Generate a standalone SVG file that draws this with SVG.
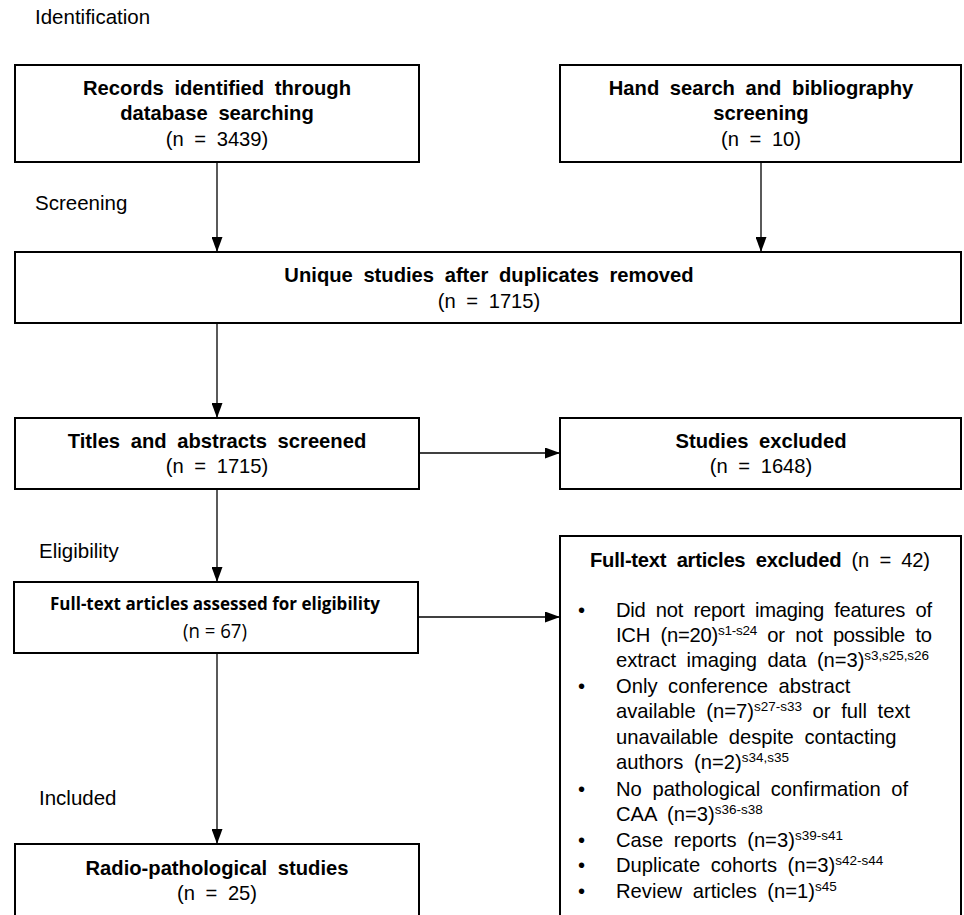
<svg xmlns="http://www.w3.org/2000/svg" width="964" height="915" viewBox="0 0 964 915">
<style>
.box{fill:#fff;stroke:#000;stroke-width:2}
.ln{fill:none;stroke:#000;stroke-width:1.3}
.lbl{font-family:"Liberation Sans",Arial,sans-serif;font-size:20.5px;fill:#000}
.t{font-family:"Liberation Sans",Arial,sans-serif;font-size:20.2px;fill:#000;word-spacing:5px}
.b{font-weight:bold}
.c{text-anchor:middle}
.cal{font-family:"Open Sans","Noto Sans",sans-serif;font-size:18px;fill:#000}
.sup{font-size:13.5px}
</style>
<defs>
<marker id="ah" markerWidth="15" markerHeight="11" refX="15" refY="5.5" orient="auto" markerUnits="userSpaceOnUse">
<path d="M0,0 L15,5.5 L0,11 z" fill="#000"/>
</marker>
</defs>
<rect width="964" height="915" fill="#fff"/>
<g id="labels">
<text class="lbl" x="35" y="24">Identification</text>
<text class="lbl" x="35" y="210">Screening</text>
<text class="lbl" x="39" y="558">Eligibility</text>
<text class="lbl" x="39" y="805">Included</text>
</g>
<g id="connectors">
<line class="ln" x1="217" y1="162" x2="217" y2="252" marker-end="url(#ah)"/>
<line class="ln" x1="761" y1="162" x2="761" y2="252" marker-end="url(#ah)"/>
<line class="ln" x1="217" y1="323" x2="217" y2="418" marker-end="url(#ah)"/>
<line class="ln" x1="419" y1="453" x2="560" y2="453" marker-end="url(#ah)"/>
<line class="ln" x1="217" y1="489" x2="217" y2="582" marker-end="url(#ah)"/>
<line class="ln" x1="418" y1="617" x2="560" y2="617" marker-end="url(#ah)"/>
<line class="ln" x1="217" y1="653" x2="217" y2="844" marker-end="url(#ah)"/>
</g>
<g id="records">
<rect class="box" x="15" y="65" width="404" height="97"/>
<text class="t b c" x="217" y="95">Records identified through</text>
<text class="t b c" x="217" y="120">database searching</text>
<text class="t c" x="217" y="145.5">(n = 3439)</text>
</g>
<g id="handsearch">
<rect class="box" x="560" y="65" width="401" height="97"/>
<text class="t b c" x="761" y="95">Hand search and bibliography</text>
<text class="t b c" x="761" y="120">screening</text>
<text class="t c" x="761" y="145.5">(n = 10)</text>
</g>
<g id="unique">
<rect class="box" x="15" y="252" width="946" height="71"/>
<text class="t b c" x="489" y="282">Unique studies after duplicates removed</text>
<text class="t c" x="489" y="307.5">(n = 1715)</text>
</g>
<g id="titles">
<rect class="box" x="15" y="418" width="404" height="71"/>
<text class="t b c" x="217" y="447.5">Titles and abstracts screened</text>
<text class="t c" x="217" y="473">(n = 1715)</text>
</g>
<g id="studies-excluded">
<rect class="box" x="560" y="418" width="401" height="71"/>
<text class="t b c" x="761" y="447.5">Studies excluded</text>
<text class="t c" x="761" y="473">(n = 1648)</text>
</g>
<g id="fulltext-assessed">
<rect class="box" x="14" y="582" width="404" height="71"/>
<text class="cal b c" x="215" y="610" textLength="330" lengthAdjust="spacingAndGlyphs">Full-text articles assessed for eligibility</text>
<text class="cal c" x="215" y="638" style="font-size:20px" textLength="64" lengthAdjust="spacingAndGlyphs">(n = 67)</text>
</g>
<g id="fulltext-excluded">
<rect class="box" x="560" y="536" width="401" height="392"/>
<text class="t" x="590" y="567" textLength="340" lengthAdjust="spacing"><tspan class="b">Full-text articles excluded</tspan> (n = 42)</text>
<g class="t">
<text x="578" y="617">•</text>
<text x="578" y="693">•</text>
<text x="578" y="796">•</text>
<text x="578" y="847">•</text>
<text x="578" y="872">•</text>
<text x="578" y="898">•</text>
</g>
<text class="t" x="616" y="617" textLength="316" lengthAdjust="spacing">Did not report imaging features of</text>
<text class="t" x="616" y="642" textLength="316" lengthAdjust="spacing">ICH (n=20)<tspan class="sup" dy="-7">s1-s24</tspan><tspan dy="7"> or not possible to</tspan></text>
<text class="t" x="616" y="667" textLength="313" lengthAdjust="spacing">extract imaging data (n=3)<tspan class="sup" dy="-7">s3,s25,s26</tspan></text>
<text class="t" x="616" y="693">Only conference abstract</text>
<text class="t" x="616" y="718">available (n=7)<tspan class="sup" dy="-7">s27-s33</tspan><tspan dy="7"> or full text</tspan></text>
<text class="t" x="616" y="744">unavailable despite contacting</text>
<text class="t" x="616" y="769">authors (n=2)<tspan class="sup" dy="-7">s34,s35</tspan></text>
<text class="t" x="616" y="796">No pathological confirmation of</text>
<text class="t" x="616" y="821">CAA (n=3)<tspan class="sup" dy="-7">s36-s38</tspan></text>
<text class="t" x="616" y="847">Case reports (n=3)<tspan class="sup" dy="-7">s39-s41</tspan></text>
<text class="t" x="616" y="872">Duplicate cohorts (n=3)<tspan class="sup" dy="-7">s42-s44</tspan></text>
<text class="t" x="616" y="898">Review articles (n=1)<tspan class="sup" dy="-7">s45</tspan></text>
</g>
<g id="radio">
<rect class="box" x="15" y="844" width="404" height="84"/>
<text class="t b c" x="217" y="875">Radio-pathological studies</text>
<text class="t c" x="217" y="900">(n = 25)</text>
</g>
</svg>
